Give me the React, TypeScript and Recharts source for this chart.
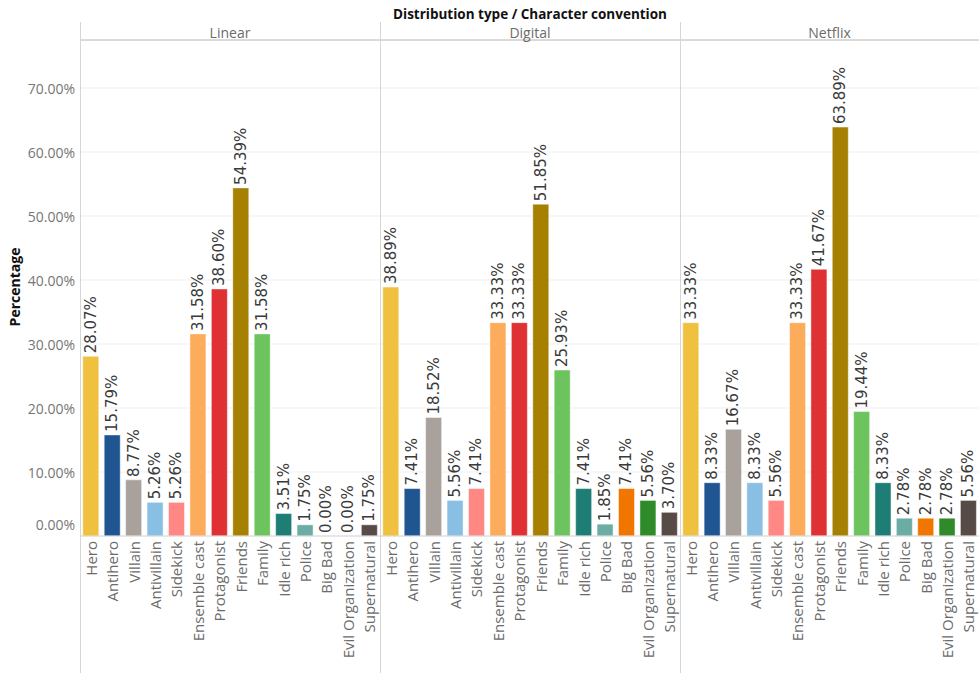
import { ComposedChart, Bar, Line, XAxis, YAxis, CartesianGrid, Cell, LabelList } from "recharts";

const CATEGORIES = [
  "Hero", "Antihero", "Villain", "Antivillain", "Sidekick", "Ensemble cast", "Protagonist",
  "Friends", "Family", "Idle rich", "Police", "Big Bad", "Evil Organization", "Supernatural",
];

const LINEAR = [28.07, 15.79, 8.77, 5.26, 5.26, 31.58, 38.6, 54.39, 31.58, 3.51, 1.75, 0.0, 0.0, 1.75];
const DIGITAL = [38.89, 7.41, 18.52, 5.56, 7.41, 33.33, 33.33, 51.85, 25.93, 7.41, 1.85, 7.41, 5.56, 3.7];
const NETFLIX = [33.33, 8.33, 16.67, 8.33, 5.56, 33.33, 41.67, 63.89, 19.44, 8.33, 2.78, 2.78, 2.78, 5.56];

const PANEL_NAMES = ["Linear", "Digital", "Netflix"];
const Y_TICKS = [0, 10, 20, 30, 40, 50, 60, 70];

const COLORS = [
  "#efc13f", "#1f5591", "#a9a19c", "#88bfe3", "#ff8884", "#fdac5b", "#df3033",
  "#a68000", "#6dc35e", "#1e7e76", "#6bada5", "#f07600", "#2f8b29", "#574b48",
];

const FONT = "'Open Sans', Lato, sans-serif";
const LABEL_FONT = "'DejaVu Sans', Verdana, sans-serif";
const PLOT_TOP = 40;
const CHART_H = 633;
const AXIS_H = 137;
const Y_MAX = 77.5;

const toRows = (values: number[]) => CATEGORIES.map((name, i) => ({ name, value: values[i] }));

const XTick = (props: any) => {
  const { x, y, payload } = props;
  return (
    <text
      x={x}
      y={y}
      transform={`rotate(-90 ${x} ${y})`}
      textAnchor="end"
      dominantBaseline="central"
      fontFamily={FONT}
      fontSize={15}
      fill="#6b6b6b"
    >
      {payload.value}
    </text>
  );
};

const YTick = (props: any) => {
  const { x, y, payload } = props;
  // bottom label sits a bit above the baseline so it stays inside the pane
  const dy = payload.value === 0 ? -12 : 0;
  return (
    <text
      x={x}
      y={y + dy}
      textAnchor="end"
      dominantBaseline="central"
      fontFamily={FONT}
      fontSize={14}
      fill="#767676"
    >
      {payload.value.toFixed(2)}%
    </text>
  );
};

// labels hang off an invisible line so zero-height bars still get one
const ValueLabel = (props: any) => {
  const { x, y, value } = props;
  const cy = y - 3;
  return (
    <text
      x={x}
      y={cy}
      transform={`rotate(-90 ${x} ${cy})`}
      textAnchor="start"
      dominantBaseline="central"
      fontFamily={LABEL_FONT}
      fontSize={15}
      fill="#3a3a3a"
    >
      {Number(value).toFixed(2)}%
    </text>
  );
};

function Panel({ values, withAxis, left, width }: { values: number[]; withAxis: boolean; left: number; width: number }) {
  return (
    <div style={{ position: "absolute", left, top: PLOT_TOP }}>
      <ComposedChart
        width={width}
        height={CHART_H}
        data={toRows(values)}
        margin={{ top: 0, right: 0, bottom: 0, left: 0 }}
        barCategoryGap="13%"
      >
        <CartesianGrid vertical={false} stroke="#efefef" />
        <XAxis
          dataKey="name"
          interval={0}
          height={AXIS_H}
          tickSize={0}
          tickMargin={5}
          tick={<XTick />}
          axisLine={{ stroke: "#d6d6d6" }}
        />
        <YAxis
          hide={!withAxis}
          width={80}
          domain={[0, Y_MAX]}
          ticks={Y_TICKS}
          allowDataOverflow
          tickSize={0}
          tickMargin={5}
          axisLine={false}
          tick={<YTick />}
        />
        <Bar dataKey="value" isAnimationActive={false} stroke="#ffffff" strokeOpacity={0.45} strokeWidth={1}>
          {values.map((_, i) => (
            <Cell key={CATEGORIES[i]} fill={COLORS[i]} />
          ))}
        </Bar>
        <Line
          dataKey="value"
          stroke="none"
          dot={false}
          activeDot={false}
          legendType="none"
          isAnimationActive={false}
        >
          <LabelList dataKey="value" content={<ValueLabel />} />
        </Line>
      </ComposedChart>
    </div>
  );
}

export default function App() {
  const panels = [LINEAR, DIGITAL, NETFLIX];
  const edges = [80, 380, 680, 979];
  return (
    <div style={{ position: "absolute", left: 0, top: 0, width: 979, height: 673, background: "#fff", overflow: "hidden" }}>
      {panels.map((values, i) => (
        <Panel
          key={PANEL_NAMES[i]}
          values={values}
          withAxis={i === 0}
          left={i === 0 ? 0 : edges[i]}
          width={i === 0 ? edges[1] : edges[i + 1] - edges[i]}
        />
      ))}
      <svg width={979} height={673} style={{ position: "absolute", left: 0, top: 0, pointerEvents: "none" }}>
        <text x={530} y={14} textAnchor="middle" dominantBaseline="central" fontFamily={FONT} fontWeight={700} fontSize={13.5} fill="#111">
          Distribution type / Character convention
        </text>
        <line x1={80} y1={PLOT_TOP} x2={979} y2={PLOT_TOP} stroke="#cfcfcf" strokeWidth={1.5} />
        {edges.slice(0, 3).map((ex) => (
          <line key={ex} x1={ex + 0.5} y1={22} x2={ex + 0.5} y2={673} stroke="#d6d6d6" strokeWidth={1} />
        ))}
        {PANEL_NAMES.map((name, i) => (
          <text
            key={name}
            x={(edges[i] + edges[i + 1]) / 2}
            y={32}
            textAnchor="middle"
            dominantBaseline="central"
            fontFamily={FONT}
            fontSize={14}
            fill="#6b6b6b"
          >
            {name}
          </text>
        ))}
        <text
          x={14}
          y={287}
          transform="rotate(-90 14 287)"
          textAnchor="middle"
          dominantBaseline="central"
          fontFamily={FONT}
          fontWeight={700}
          fontSize={14}
          fill="#111"
        >
          Percentage
        </text>
      </svg>
    </div>
  );
}
